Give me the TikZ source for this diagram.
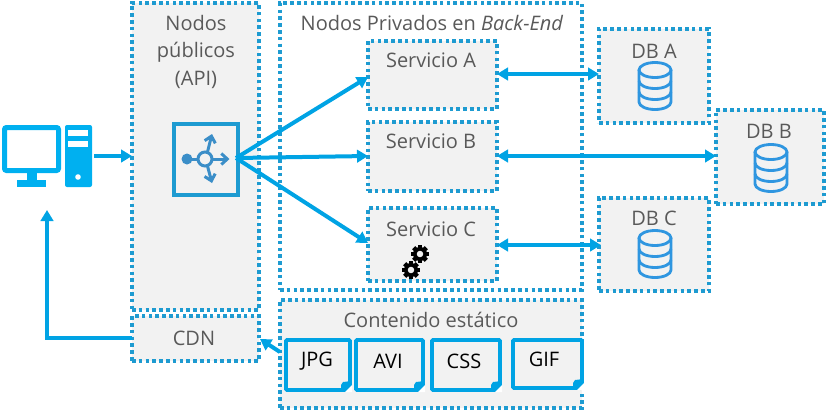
\documentclass[tikz,border=0pt]{standalone}
\usepackage{fontspec}
\setmainfont{Open Sans}
\usetikzlibrary{arrows.meta,calc}
\definecolor{dot}{HTML}{1E9BD1}
\definecolor{arrowc}{HTML}{00A3E4}
\definecolor{pcblue}{HTML}{00B0F0}
\definecolor{dbblue}{HTML}{2F96E0}
\definecolor{lbicon}{HTML}{3B8EC8}
\definecolor{fillg}{HTML}{F2F2F2}
\definecolor{txt}{HTML}{595959}
\tikzset{
 x=1pt,y=-1pt,
 box/.style={draw=dot,line width=3.8pt,dash pattern=on 3.6pt off 3.2pt,fill=fillg,inner sep=0pt,outer sep=0pt},
 plainbox/.style={draw=dot,line width=3.8pt,dash pattern=on 3.6pt off 3.2pt,inner sep=0pt,outer sep=0pt},
 lbl/.style={text=txt,font=\fontsize{20}{27.5}\selectfont,align=center,inner sep=0pt},
 doclbl/.style={text=black,font=\fontsize{20}{24}\selectfont,inner sep=0pt},
 conn/.style={draw=arrowc,line width=4pt,-{Triangle[length=11pt,width=12.5pt]}},
 biconn/.style={draw=arrowc,line width=4pt,{Triangle[length=11pt,width=12.5pt]}-{Triangle[length=11pt,width=12.5pt]}},
}
\newcommand{\mkbox}[6]{% name, style, x1,y1,x2,y2
 \node[#2,minimum width=#5pt-#3pt,minimum height=#6pt-#4pt,anchor=north west] (#1) at (#3,#4) {};}
\newcommand{\dbicon}[2]{% centre x, top y
 \begin{scope}[shift={(#1,#2)},draw=dbblue,line width=2.8pt]
  \draw (0,8) circle[x radius=16,y radius=7.5];
  \draw (-16,8) -- (-16,40) arc[start angle=180,end angle=0,x radius=16,y radius=7.5] -- (16,8);
  \draw (-16,19) arc[start angle=180,end angle=0,x radius=16,y radius=7.5];
  \draw (-16,30) arc[start angle=180,end angle=0,x radius=16,y radius=7.5];
 \end{scope}}
\newcommand{\gear}[2]{%
 \begin{scope}[shift={(#1,#2)}]
  \foreach \a in {0,45,...,315}{\fill[black,rotate=\a] (-2.2,-9) rectangle (2.2,-5);}
  \fill[black,even odd rule] (0,0) circle[radius=7] (0,0) circle[radius=3.4];
 \end{scope}}
\newcommand{\docbox}[5]{% name,x1,y1,x2,y2
 \node[draw=arrowc,line width=3.6pt,fill=fillg,rounded corners=1pt,minimum width=#4pt-#2pt,minimum height=#5pt-#3pt,anchor=north west,inner sep=0pt,outer sep=0pt] (#1) at (#2,#3) {};
 \fill[white] (#4-5,#5+2) -- (#4+2,#5-5) -- (#4+2,#5+2) -- cycle;
 \fill[arrowc] (#4-9,#5+1.8) -- (#4-9,#5-5) -- (#4-7,#5-8) -- (#4+1.8,#5-9) -- (#4+1.8,#5-6) -- (#4-6,#5+1.8) -- cycle;
}
\begin{document}
\begin{tikzpicture}
\useasboundingbox (0,0) rectangle (826,410);
% containers
\mkbox{api}{box}{132}{3}{259}{310}
\mkbox{cdn}{box}{132}{316}{259}{361}
\mkbox{priv}{plainbox}{280}{3}{582}{290}
\mkbox{sa}{box}{368}{41}{497}{109}
\mkbox{sb}{box}{368}{122}{497}{191}
\mkbox{sc}{box}{368}{208}{497}{281}
\mkbox{dba}{box}{599}{29}{709}{123}
\mkbox{dbc}{box}{599}{198}{709}{291}
\mkbox{dbb}{box}{716}{110}{824}{204}
\mkbox{stat}{box}{280}{300}{582}{408}
% labels
\node[lbl,anchor=north] (apilbl) at (196,15) {Nodos\\públicos\\(API)};
\node[lbl] (cdnlbl) at (194,338) {CDN};
\node[lbl] (privlbl) at (432,23) {Nodos Privados en \textit{Back-End}};
\node[lbl] (salbl) at (431,60) {Servicio A};
\node[lbl] (sblbl) at (431,141) {Servicio B};
\node[lbl] (sclbl) at (431,229) {Servicio C};
\node[lbl] (dbalbl) at (654,51) {DB A};
\node[lbl] (dbblbl) at (769,131) {DB B};
\node[lbl] (dbclbl) at (654,218) {DB C};
\node[lbl] (statlbl) at (431,320) {Contenido estático};
% db icons
\dbicon{655}{62}
\dbicon{771}{144}
\dbicon{655}{230}
% gears
\gear{420}{254}
\gear{411}{270}
% docs
\docbox{jpg}{286}{340}{350}{390}
\docbox{avi}{356}{340}{423}{390}
\docbox{css}{432}{340}{500}{390}
\docbox{gif}{513}{340}{582}{388}
\node[doclbl] (jpglbl) at (317,361) {JPG};
\node[doclbl] (avilbl) at (388,361) {AVI};
\node[doclbl] (csslbl) at (464,361) {CSS};
\node[doclbl] (giflbl) at (544,359) {GIF};
% balancer icon
\node[draw=dot,line width=4pt,minimum width=64pt,minimum height=71pt,anchor=north west,inner sep=0pt,outer sep=0pt] (lb) at (174,124) {};
\begin{scope}[shift={(205,159)},draw=lbicon,line width=3pt]
 \fill[lbicon] (-18,0) circle[radius=5.5];
 \draw (-18,0) -- (-7,0);
 \draw (0,0) circle[radius=7];
 \draw[-{Straight Barb[length=6pt,width=11pt]},line width=3pt] (7,0) -- (24.5,0);
 \draw[-{Straight Barb[length=6pt,width=11pt]},line width=3pt] (2.5,-7) -- (7,-25);
 \draw[-{Straight Barb[length=6pt,width=11pt]},line width=3pt] (2.5,7) -- (7,24);
\end{scope}
% computer icon
\node[draw=pcblue,line width=5pt,rounded corners=2pt,minimum width=54pt,minimum height=43pt,anchor=north west,inner sep=0pt,outer sep=0pt] (mon) at (4.5,127.5) {};
\fill[pcblue] (27,172) rectangle (37,181);
\fill[pcblue] (17,180) rectangle (46,187);
\node[fill=pcblue,rounded corners=2pt,minimum width=27pt,minimum height=62pt,anchor=north west,inner sep=0pt,outer sep=0pt] (tower) at (65,125) {};
\fill[white] (68,130) rectangle (88,136);
\fill[white] (68,141) rectangle (88,147);
\fill[white] (78,177) circle[radius=2.8];
% connectors
\coordinate (pcout) at (94,156);
\coordinate (fan) at (236,158);
\coordinate (cdnturn) at (47,338);
\coordinate (pcin) at (47,210);
\draw[conn] (pcout) -- (132,156);
\draw[conn] (fan) -- (368,77);
\draw[conn] (fan) -- (368,156);
\draw[conn] (fan) -- (368,243);
\draw[biconn] (497,74) -- (599,74);
\draw[biconn] (497,156) -- (716,156);
\draw[biconn] (497,245) -- (601,245);
\draw[conn] (132,338) -- (cdnturn) -- (pcin);
\draw[conn] (280,352) -- (260,339);
\end{tikzpicture}
\end{document}
